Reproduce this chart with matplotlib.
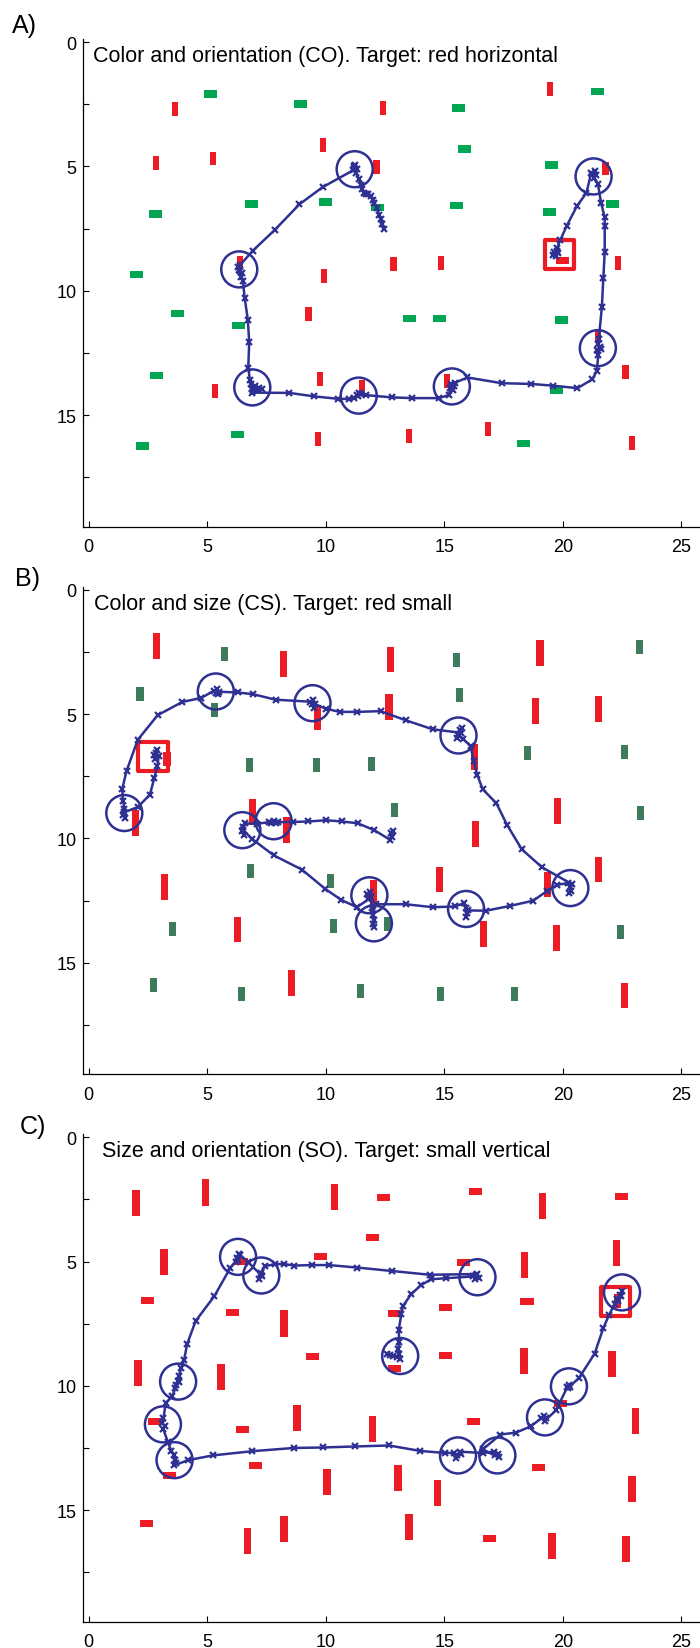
import matplotlib.pyplot as plt
from matplotlib.patches import Rectangle
from matplotlib.ticker import MultipleLocator

plt.rcParams['font.family'] = ['Liberation Sans', 'DejaVu Sans']

RED = '#ed1c24'
GREEN_A = '#00a651'
GREEN_B = '#3e7b5b'
BLUE = '#2e3192'

# ---------------- panel A: colour and orientation ----------------
a_title = 'Color and orientation (CO). Target: red horizontal'
a_red_x = [3.63, 12.41, 19.45, 9.89, 2.82, 5.26, 12.14, 21.8, 6.39, 12.86, 14.85, 9.92,
           22.33, 9.27, 21.48, 22.65, 9.74, 5.34, 11.54, 15.11, 16.86, 9.68, 13.52, 22.93]
a_red_y = [2.69, 2.66, 1.89, 4.15, 4.85, 4.68, 5.02, 5.08, 8.9, 8.94, 8.9, 9.39,
           8.9, 10.94, 11.8, 13.27, 13.55, 14.02, 13.86, 13.65, 15.55, 15.98, 15.83, 16.12]
a_green_x = [5.15, 8.95, 15.6, 21.45, 15.85, 19.53, 6.86, 9.98, 12.2, 15.53, 2.82, 19.44,
             22.1, 2.01, 3.74, 6.32, 13.53, 14.81, 19.94, 2.86, 19.72, 6.26, 2.27, 18.35]
a_green_y = [2.09, 2.49, 2.65, 1.99, 4.3, 4.94, 6.51, 6.43, 6.65, 6.58, 6.91, 6.84,
             6.51, 9.34, 10.91, 11.39, 11.11, 11.11, 11.18, 13.42, 14.0, 15.78, 16.24, 16.15]
a_target = (20.0, 8.78)
a_box = (19.86, 8.55)
a_path_x = [12.44, 12.38, 12.31, 12.25, 12.16, 12.05, 12.0, 11.9, 11.8, 11.7, 11.62, 11.55, 11.5, 11.4, 11.28,
            11.2, 11.15, 11.25, 11.3, 11.18, 11.22,
            9.87, 8.89, 7.84, 6.92,
            6.4, 6.3, 6.38, 6.45, 6.35, 6.42, 6.5,
            6.58, 6.71, 6.77, 6.73, 6.8,
            6.85, 6.9, 7.0, 6.95, 7.2, 7.3, 6.9,
            8.46, 9.51, 10.53,
            11.0, 11.2, 11.3, 11.4, 11.35, 11.5, 11.7,
            12.78, 13.63, 14.76,
            15.2, 15.25, 15.3, 15.4, 15.35, 15.45,
            15.98, 17.42, 18.68, 19.59, 20.62, 21.24, 21.43,
            21.5, 21.45, 21.55, 21.6, 21.48, 21.52,
            21.65, 21.71, 21.77, 21.77, 21.77, 21.62, 21.48,
            21.3, 21.25, 21.35, 21.4, 21.2,
            21.0, 20.6, 20.17, 19.9,
            19.75, 19.65, 19.7, 19.8, 19.6, 19.75]
a_path_y = [7.51, 7.3, 7.13, 6.95, 6.69, 6.45, 6.33, 6.2, 6.12, 6.1, 6.05, 5.9, 5.76, 5.5, 5.25,
            5.05, 5.15, 4.95, 5.1, 5.0, 5.12,
            5.83, 6.52, 7.56, 8.39,
            8.95, 9.05, 9.2, 9.3, 9.15, 9.45, 9.6,
            10.29, 11.16, 12.05, 13.1, 13.6,
            13.75, 13.95, 13.85, 14.05, 13.9, 13.95, 14.1,
            14.11, 14.25, 14.35,
            14.35, 14.3, 14.2, 14.1, 14.25, 14.15, 14.2,
            14.29, 14.32, 14.32,
            14.2, 13.9, 13.75, 13.85, 14.0, 13.7,
            13.49, 13.72, 13.75, 13.82, 13.92, 13.57, 13.24,
            12.6, 12.4, 12.25, 12.35, 12.15, 11.95,
            10.65, 9.5, 8.45, 7.41, 7.05, 6.48, 5.69,
            5.45, 5.3, 5.2, 5.35, 5.25,
            6.06, 6.59, 7.38, 7.95,
            8.3, 8.45, 8.6, 8.5, 8.55, 8.4]
a_fix_x = [11.22, 6.35, 6.9, 11.39, 15.32, 21.48, 21.3]
a_fix_y = [5.11, 9.14, 13.89, 14.22, 13.85, 12.31, 5.4]

# ---------------- panel B: colour and size ----------------
b_title = 'Color and size (CS). Target: red small'
b_red_x = [2.86, 8.23, 12.74, 19.04, 12.67, 18.85, 21.52, 9.66, 16.26, 6.92, 1.97, 8.36,
           16.32, 19.77, 21.52, 14.81, 3.21, 12.03, 19.36, 6.28, 16.67, 19.72, 8.55, 22.61]
b_red_y = [2.26, 2.98, 2.81, 2.53, 4.71, 4.87, 4.79, 5.14, 6.72, 8.95, 9.39, 9.67,
           9.82, 8.91, 11.26, 11.65, 11.95, 12.19, 11.86, 13.66, 13.85, 14.0, 15.82, 16.32]
b_green_x = [5.73, 15.51, 23.23, 2.16, 15.64, 5.32, 18.53, 22.59, 6.79, 9.6, 11.94, 12.91,
             23.27, 6.82, 10.19, 3.53, 10.34, 12.61, 22.42, 2.74, 6.45, 11.48, 14.83, 17.97]
b_green_y = [2.59, 2.81, 2.3, 4.2, 4.22, 4.85, 6.58, 6.54, 7.04, 7.04, 6.99, 8.84,
             8.97, 11.3, 11.72, 13.63, 13.53, 13.45, 13.76, 15.91, 16.25, 16.14, 16.28, 16.25]
b_target = (3.3, 6.8)
b_box = (2.71, 6.69)
b_path_x = [12.8, 12.75, 12.85, 12.7,
            12.05, 11.34, 10.68, 10.02, 9.27, 8.61,
            8.0, 7.8, 7.7, 7.9, 7.6,
            7.09,
            6.6, 6.5, 6.45, 6.55, 6.5,
            6.9, 7.8, 9.0, 9.96, 10.66, 11.32,
            11.8, 11.75, 11.85, 11.9,
            11.95, 12.0, 12.05, 12.0, 12.05, 12.0, 12.1,
            13.38, 14.51, 15.45,
            15.85, 15.9, 15.95, 15.9, 16.0,
            16.77, 17.76, 18.74, 19.34, 19.77,
            20.2, 20.3, 20.35, 20.25, 20.4,
            19.12, 18.27, 17.65, 17.2, 16.62, 16.39, 16.24, 16.11,
            15.8, 15.6, 15.65, 15.75, 15.55, 15.7,
            14.51, 13.38, 12.31, 11.32, 10.58, 10.0,
            9.55, 9.45, 9.4, 9.5, 9.35,
            7.88, 6.94, 6.3,
            5.5, 5.4, 5.35, 5.45, 5.3,
            4.74, 3.95, 2.91, 2.07, 1.6, 1.41,
            1.45, 1.5, 1.45, 1.55, 1.5,
            2.07, 2.58, 2.76, 2.9,
            2.95, 2.85, 2.75, 2.9, 2.8]
b_path_y = [9.95, 9.8, 9.7, 10.05,
            9.67, 9.39, 9.32, 9.27, 9.32, 9.34,
            9.35, 9.3, 9.4, 9.38, 9.35,
            9.41,
            9.4, 9.55, 9.7, 9.85, 9.65,
            10.03, 10.68, 11.26, 12.02, 12.48, 12.77,
            12.45, 12.25, 12.15, 12.35,
            12.8, 13.1, 13.3, 13.45, 13.55, 12.9, 12.65,
            12.65, 12.77, 12.74,
            12.6, 12.8, 13.0, 13.15, 12.9,
            12.91, 12.72, 12.51, 12.12, 11.87,
            11.8, 11.95, 12.1, 12.2, 11.85,
            11.16, 10.44, 9.46, 8.59, 8.02, 7.44, 6.87, 6.29,
            6.0, 5.85, 5.65, 5.55, 5.95, 5.75,
            5.61, 5.25, 4.88, 4.91, 4.91, 4.78,
            4.6, 4.45, 4.6, 4.75, 4.5,
            4.42, 4.2, 4.13,
            4.1, 4.0, 4.15, 4.2, 4.05,
            4.35, 4.51, 5.04, 6.03, 7.27, 8.02,
            8.5, 8.8, 9.05, 9.2, 8.95,
            8.74, 8.24, 7.59, 7.08,
            6.7, 6.55, 6.65, 6.45, 6.8]
b_fix_x = [5.36, 9.44, 15.6, 1.5, 6.48, 7.8, 11.84, 12.03, 15.92, 20.32]
b_fix_y = [4.09, 4.56, 5.86, 8.98, 9.67, 9.31, 12.29, 13.42, 12.84, 12.0]

# ---------------- panel C: size and orientation ----------------
c_title = 'Size and orientation (SO). Target: small vertical'
c_big_x = [1.99, 4.92, 10.36, 19.14, 3.18, 18.38, 22.26, 8.25, 2.09, 5.58, 18.36, 22.07,
           8.78, 11.97, 23.06, 10.04, 13.06, 14.72, 22.93, 8.25, 13.52, 6.69, 19.55, 22.67]
c_big_y = [2.63, 2.22, 2.4, 2.76, 5.0, 5.15, 4.65, 7.49, 9.49, 9.63, 9.0, 9.11,
           11.3, 11.73, 11.43, 13.87, 13.72, 14.32, 14.14, 15.75, 15.69, 16.25, 16.43, 16.56]
c_hor_x = [12.42, 16.32, 22.49, 11.99, 9.76, 15.82, 6.45, 2.49, 6.07, 12.91, 15.06, 18.49,
           9.43, 15.06, 12.91, 19.9, 2.77, 6.49, 16.25, 7.04, 18.98, 3.4, 2.42, 16.91]
c_hor_y = [2.44, 2.17, 2.37, 4.03, 4.79, 5.02, 5.01, 6.57, 7.06, 7.1, 6.83, 6.62,
           8.83, 8.76, 9.3, 10.72, 11.44, 11.77, 11.42, 13.19, 13.29, 13.62, 15.55, 16.13]
c_target = (22.3, 6.6)
c_box = (22.24, 6.62)
c_path_x = [12.6, 12.7, 12.85, 13.0, 13.15, 13.1, 13.05,
            13.1, 13.08, 13.19, 13.26, 13.6, 14.0, 14.45, 15.06,
            16.2, 16.35, 16.45, 16.3, 16.4,
            14.38, 12.81, 11.32, 10.13, 9.43, 8.68, 8.25, 7.87, 7.45,
            7.25, 7.3, 7.2, 7.28,
            6.73,
            6.35, 6.25, 6.3, 6.2, 6.4,
            5.98, 5.3, 4.51, 4.15, 4.02,
            3.9, 3.8, 3.75, 3.7, 3.8, 3.65,
            3.53, 3.25,
            3.15, 3.1, 3.2, 3.15,
            3.34, 3.49,
            3.6, 3.65, 3.7, 3.6,
            4.19, 5.23, 6.89, 8.64, 9.88, 11.22, 12.67, 13.99, 15.02,
            15.4, 15.55, 15.7, 15.5, 15.65,
            16.62,
            17.1, 17.25, 17.3, 17.15,
            16.62, 17.37, 18.03, 18.65,
            19.1, 19.2, 19.3, 19.25,
            19.72, 20.19,
            20.25, 20.3, 20.2,
            20.68, 21.34, 21.71, 21.96,
            22.2, 22.3, 22.4, 22.5, 22.45, 22.35]
c_path_y = [8.7, 8.75, 8.8, 8.85, 8.9, 8.7, 8.5,
            8.25, 7.75, 7.1, 6.78, 6.32, 5.96, 5.71, 5.67,
            5.6, 5.55, 5.65, 5.7, 5.5,
            5.53, 5.38, 5.24, 5.14, 5.14, 5.16, 5.1, 5.1, 5.18,
            5.45, 5.6, 5.7, 5.55,
            5.03,
            4.7, 4.85, 4.95, 5.0, 4.75,
            5.24, 6.39, 7.39, 8.32, 8.97,
            9.3, 9.6, 9.8, 9.95, 9.85, 10.1,
            10.41, 10.69,
            11.3, 11.5, 11.6, 11.75,
            12.27, 12.63,
            12.8, 13.0, 13.1, 13.2,
            12.99, 12.8, 12.63, 12.5, 12.48, 12.44, 12.4, 12.62, 12.7,
            12.7, 12.8, 12.75, 12.9, 12.65,
            12.7,
            12.65, 12.75, 12.85, 12.8,
            12.56, 11.96, 11.88, 11.63,
            11.3, 11.2, 11.3, 11.4,
            10.98, 10.05,
            9.95, 10.05, 10.1,
            9.69, 8.71, 7.68, 7.13,
            6.7, 6.5, 6.35, 6.2, 6.4, 6.6]
c_fix_x = [16.4, 7.28, 6.3, 3.77, 3.13, 3.62, 15.58, 17.24, 19.25, 20.26, 13.14, 22.5]
c_fix_y = [5.63, 5.56, 4.81, 9.83, 11.55, 12.99, 12.8, 12.8, 11.27, 10.02, 8.8, 6.24]


def bars(ax, xs, ys, w, h, color):
    for x, y in zip(xs, ys):
        ax.add_patch(Rectangle((x - w / 2, y - h / 2), w, h, color=color, lw=0, zorder=1))


def style(ax, title, title_x):
    ax.set_xlim(-0.23, 25.79)
    ax.set_ylim(19.5, -0.12)
    ax.set_xticks([0, 5, 10, 15, 20, 25])
    ax.set_yticks([0, 5, 10, 15])
    ax.yaxis.set_minor_locator(MultipleLocator(2.5))
    ax.spines['top'].set_visible(False)
    ax.spines['right'].set_visible(False)
    for s in ('left', 'bottom'):
        ax.spines[s].set_linewidth(0.9)
    ax.tick_params(which='both', direction='in', length=4.5, width=0.8, labelsize=13)
    ax.tick_params(axis='x', pad=8)
    ax.tick_params(axis='y', pad=5)
    ax.text(title_x, 0.55, title, fontsize=15.5, ha='left', va='center')


def scanpath(ax, px, py, fx, fy, box):
    ax.scatter([box[0]], [box[1]], s=440, marker='s', facecolors='none',
               edgecolors=RED, linewidths=3, zorder=2)
    ax.plot(px, py, '-x', color=BLUE, lw=1.8, ms=4.5, mew=1.6, zorder=3)
    ax.scatter(fx, fy, s=672, facecolors='none', edgecolors=BLUE, linewidths=1.8, zorder=4)


fig = plt.figure(figsize=(7, 16.49), dpi=100)
H = 0.2957
axA = fig.add_axes([0.119, 0.6799, 0.881, H])
axB = fig.add_axes([0.119, 0.3478, 0.881, H])
axC = fig.add_axes([0.119, 0.0158, 0.881, H])

# A
bars(axA, a_red_x, a_red_y, 0.26, 0.56, RED)
bars(axA, a_green_x, a_green_y, 0.55, 0.3, GREEN_A)
bars(axA, [a_target[0]], [a_target[1]], 0.55, 0.3, RED)
scanpath(axA, a_path_x, a_path_y, a_fix_x, a_fix_y, a_box)
style(axA, a_title, 0.2)

# B
bars(axB, b_red_x, b_red_y, 0.3, 1.03, RED)
bars(axB, b_green_x, b_green_y, 0.3, 0.56, GREEN_B)
bars(axB, [b_target[0]], [b_target[1]], 0.3, 0.56, RED)
scanpath(axB, b_path_x, b_path_y, b_fix_x, b_fix_y, b_box)
style(axB, b_title, 0.23)

# C
bars(axC, c_big_x, c_big_y, 0.32, 1.05, RED)
bars(axC, c_hor_x, c_hor_y, 0.55, 0.28, RED)
bars(axC, [c_target[0]], [c_target[1]], 0.3, 0.56, RED)
scanpath(axC, c_path_x, c_path_y, c_fix_x, c_fix_y, c_box)
style(axC, c_title, 0.55)

fig.text(12 / 700, 1 - 26 / 1649, 'A)', fontsize=18, ha='left', va='center')
fig.text(15 / 700, 1 - 579 / 1649, 'B)', fontsize=18, ha='left', va='center')
fig.text(20 / 700, 1 - 1127 / 1649, 'C)', fontsize=18, ha='left', va='center')

fig.savefig('out.png', dpi=100)
